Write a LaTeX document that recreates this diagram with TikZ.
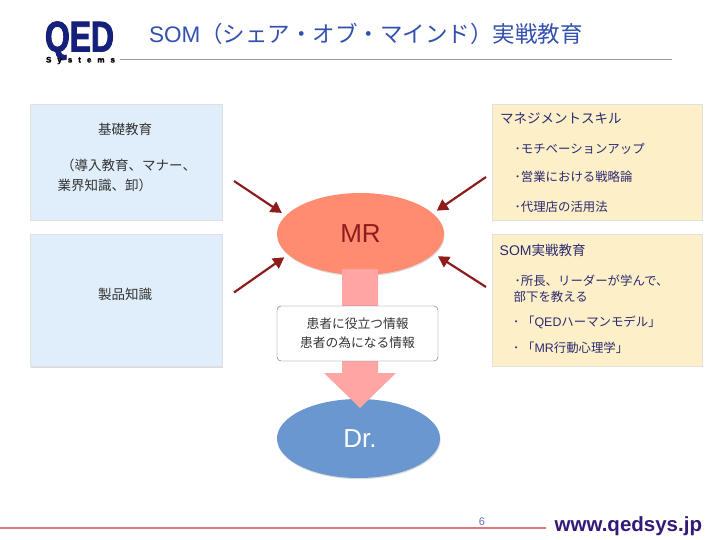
\documentclass[tikz,border=0pt]{standalone}
\usepackage{fontspec}
\usetikzlibrary{shapes.geometric,arrows.meta,shadows}
\setmainfont{Liberation Sans}
\newfontfamily\jp{Noto Sans CJK JP}
\newfontfamily\sysfont[LetterSpace=75,FakeBold=2]{Liberation Sans Bold}
\newfontfamily\logofont[FakeStretch=0.74,FakeBold=2]{Liberation Sans Bold}
\definecolor{titleblue}{HTML}{3350AE}
\definecolor{navy}{HTML}{15207A}
\definecolor{rightink}{HTML}{2B2B72}
\definecolor{leftink}{HTML}{333333}
\definecolor{boxblue}{HTML}{E0EEFC}
\definecolor{boxcream}{HTML}{FDF0C8}
\definecolor{arrowred}{HTML}{8E1C1C}
\definecolor{salmon}{HTML}{FF8B70}
\definecolor{drblue}{HTML}{6A97D0}
\definecolor{flowpink}{HTML}{FFA5A3}
\definecolor{footred}{HTML}{E07A78}
\definecolor{webink}{HTML}{341A78}
\newcommand{\fs}[1]{\fontsize{#1}{#1}\selectfont}
\tikzset{
  panel/.style={draw=black!12,line width=.5pt,minimum width=#1,inner sep=0pt,
    drop shadow={shadow xshift=.6pt,shadow yshift=-1pt,opacity=.14,fill=black}},
  bluepanel/.style={panel=192pt,fill=boxblue},
  creampanel/.style={panel=210pt,fill=boxcream},
  lefttext/.style={anchor=base west,inner sep=0pt,text=leftink,font=\jp\fs{13.5}},
  righthead/.style={anchor=base west,inner sep=0pt,text=rightink,font=\jp\fs{13.5}},
  rightitem/.style={anchor=base west,inner sep=0pt,text=rightink,font=\jp\fs{12.4}},
  oval/.style={ellipse,inner sep=0pt,outer sep=5pt,
    drop shadow={shadow xshift=.6pt,shadow yshift=-1.2pt,opacity=.14,fill=black}},
  feed/.style={draw=arrowred,line width=2.2pt,-{Triangle[length=11pt,width=12pt]}},
}
\begin{document}
\begin{tikzpicture}[x=1pt,y=-1pt]
\useasboundingbox (0,0) rectangle (720,540);
% header
\node[anchor=base,inner sep=0pt,text=navy,font=\logofont\fs{43}] (qed) at (79.5,51.5) {QED};
\node[anchor=base,inner sep=0pt,text=black,font=\sysfont\fs{8}] (sys) at (80.5,62.5) {Systems};
\node[anchor=base west,inner sep=0pt,text=titleblue,font=\fs{22.5}] (title) at (149,43) {SOM{\jp （シェア・オブ・マインド）実戦教育}};
\coordinate (hl) at (120,60); \coordinate (hr) at (672,60);
\draw[black!40,line width=1pt] (hl) -- (hr);
% panels
\node[bluepanel,minimum height=116pt] (b1) at (126,162) {};
\node[bluepanel,minimum height=132pt] (b2) at (126,300.5) {};
\node[creampanel,minimum height=116pt] (c1) at (597,162) {};
\node[creampanel,minimum height=132pt] (c2) at (597,300) {};
% left text
\node[lefttext] (t1) at (98,135) {基礎教育};
\node[lefttext] (t2) at (61,170.5) {（導入教育、マナー、};
\node[lefttext] (t3) at (57.5,190.5) {業界知識、卸）};
\node[lefttext] (t4) at (98,299) {製品知識};
% right text
\node[righthead] (r1) at (500,124) {マネジメントスキル};
\node[rightitem] (r2) at (514.5,153.5) {･モチベーションアップ};
\node[rightitem] (r3) at (514.5,182) {･営業における戦略論};
\node[rightitem] (r4) at (514.5,211.5) {･代理店の活用法};
\node[righthead] (r5) at (499.5,255) {{\fs{14}\rmfamily SOM}実戦教育};
\node[rightitem] (r6) at (514.5,285.5) {･所長、リーダーが学んで、};
\node[rightitem] (r7) at (513.5,301.5) {部下を教える};
\node[rightitem] (r8) at (513,326.5) {･ 「{\rmfamily QED}ハーマンモデル」};
\node[rightitem] (r9) at (513,352.5) {･ 「{\rmfamily MR}行動心理学」};
% ovals
\node[oval,fill=salmon,minimum width=167pt,minimum height=82pt,text=arrowred,font=\fs{26}] (mr) at (360.5,234) {MR};
\node[oval,fill=drblue,minimum width=163pt,minimum height=79pt,text=white,font=\fs{26}] (dr) at (358.5,438.5) {\hspace*{3pt}Dr.};
% flow arrow
\fill[flowpink] (342,269) -- (378,269) -- (378,373) -- (396,373) -- (360,408) -- (324,373) -- (342,373) -- cycle;
\node[draw=black!60,fill=white,rounded corners=4pt,minimum width=161pt,minimum height=55pt,inner sep=0pt,align=center,text=leftink,font=\jp\fs{12.75}] (info) at (357.5,333.5)
  {患者に役立つ情報\\[6.2pt]患者の為になる情報};
% feeds
\coordinate (f1) at (234,181); \coordinate (f2) at (234,292.5);
\coordinate (f3) at (486,177); \coordinate (f4) at (486,287);
\draw[feed] (f1) -- (mr.165);
\draw[feed] (f2) -- (mr.197.5);
\draw[feed] (f3) -- (mr.17);
\draw[feed] (f4) -- (mr.-16);
% footer
\coordinate (fl) at (0,528); \coordinate (fr) at (546,528);
\draw[footred,line width=1.2pt] (fl) -- (fr);
\node[anchor=base,inner sep=0pt,text=titleblue!80,font=\fs{11}] (pg) at (482,525) {6};
\node[anchor=base west,inner sep=0pt,text=webink,font=\bfseries\fs{20.5}] (web) at (554.5,531) {www.qedsys.jp};
\end{tikzpicture}
\end{document}
